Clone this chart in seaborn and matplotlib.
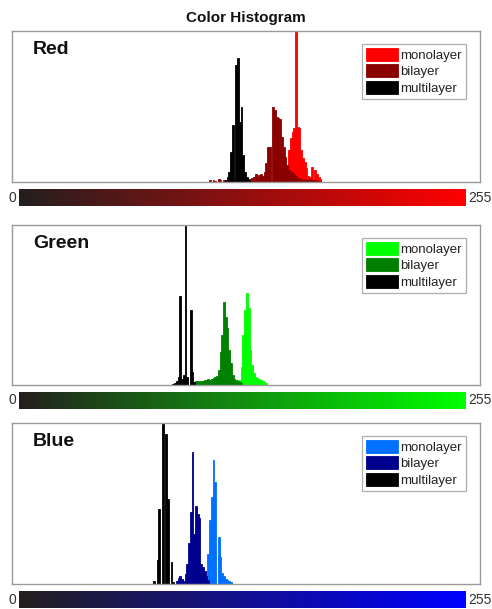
import matplotlib

matplotlib.use("Agg")

import matplotlib.pyplot as plt
import numpy as np
import pandas as pd
import seaborn as sns


# Histogram counts per intensity level (arbitrary units).
LAYERS = ["monolayer", "bilayer", "multilayer"]

RED_MONO_START = 153
RED_MONO = [5, 32, 44, 50, 54, 400, 55, 54, 32, 24, 20, 14, 6, 5, 15, 0, 12, 8, 5, 3]
RED_BI_START = 109
RED_BI = [2, 0, 2, 1, 0, 3, 2, 0, 2, 1, 2, 1, 2, 1, 1, 2, 1, 2, 1, 2, 2, 2, 3, 3, 4,
          5, 8, 4, 7, 8, 6, 10, 19, 35, 35, 0, 75, 72, 65, 64, 63, 45, 35, 25, 17,
          12, 10, 10, 8, 6, 4, 3, 3, 2, 3, 2, 2, 3, 2, 2, 2, 1, 1, 1]
RED_MULTI_START = 118
RED_MULTI = [2, 5, 10, 30, 57, 0, 117, 124, 60, 75, 27, 10, 5, 2]

GREEN_MONO_START = 124
GREEN_MONO = [3, 5, 5, 18, 50, 75, 92, 77, 35, 20, 12, 8, 7, 6, 5, 4, 3, 2]
GREEN_BI_START = 100
GREEN_BI = [2, 4, 4, 3, 4, 4, 5, 5, 6, 5, 6, 7, 8, 9, 15, 33, 50, 83, 68, 57, 35,
            22, 10, 6, 5, 4, 3, 2]
GREEN_MULTI_START = 88
GREEN_MULTI = [1, 2, 4, 8, 89, 6, 10, 400, 8, 0, 75, 13, 3]

BLUE_MONO_START = 106
BLUE_MONO = [3, 4, 30, 64, 87, 124, 102, 0, 47, 27, 11, 8, 5, 4, 3, 2]
BLUE_BI_START = 90
BLUE_BI = [3, 6, 8, 5, 3, 10, 20, 41, 72, 132, 50, 78, 70, 66, 20, 17, 13, 8, 4]
BLUE_MULTI_START = 77
BLUE_MULTI = [3, 0, 24, 75, 0, 161, 0, 150, 85, 0, 22, 2]

CHANNELS = ["Red", "Green", "Blue"]
CBAR_MIN_LABEL = "0"
CBAR_MAX_LABEL = "255"

PALETTES = {
    "Red": ["#ff0000", "#8b0000", "#000000"],
    "Green": ["#00ff00", "#008000", "#000000"],
    "Blue": ["#0070ff", "#00008f", "#000000"],
}
CBAR_END = {"Red": (1.0, 0.0, 0.0), "Green": (0.0, 1.0, 0.0), "Blue": (0.0, 0.0, 1.0)}

# pixel layout of the 492x609 figure: hist box (top, bottom), colorbar (top, bottom)
LAYOUT = {
    "Red": ((31, 182), (189, 206)),
    "Green": ((225, 385), (392, 409)),
    "Blue": ((423, 584), (591, 608)),
}
W, H = 492, 609


def build_frame(channel):
    data = {
        "Red": [(RED_MONO_START, RED_MONO), (RED_BI_START, RED_BI), (RED_MULTI_START, RED_MULTI)],
        "Green": [(GREEN_MONO_START, GREEN_MONO), (GREEN_BI_START, GREEN_BI),
                  (GREEN_MULTI_START, GREEN_MULTI)],
        "Blue": [(BLUE_MONO_START, BLUE_MONO), (BLUE_BI_START, BLUE_BI),
                 (BLUE_MULTI_START, BLUE_MULTI)],
    }[channel]
    rows = []
    for layer, (start, counts) in zip(LAYERS, data):
        for i, c in enumerate(counts):
            rows.append({"level": start + i, "count": c, "layer": layer})
    return pd.DataFrame(rows)


def px_axes(fig, left, right, top, bottom):
    return fig.add_axes([left / W, 1 - bottom / H, (right - left) / W, (bottom - top) / H])


sns.set_theme(style="white")
plt.rcParams["font.family"] = ["Liberation Sans", "DejaVu Sans"]

fig = plt.figure(figsize=(W / 100, H / 100), dpi=100)
fig.text(0.5, 1 - 18 / H, "Color Histogram", ha="center", va="center",
         fontsize=11, fontweight="bold", color="#111111")

# x mapping so the histogram lines up with the 0..255 colorbar (x 19..466 px)
px_per_level = (466 - 19) / 255
xlim = ((12 - 19) / px_per_level, (480 - 19) / px_per_level)

for channel in CHANNELS:
    (htop, hbot), (ctop, cbot) = LAYOUT[channel]
    ax = px_axes(fig, 12, 480, htop, hbot)
    df = build_frame(channel)
    colors = PALETTES[channel]
    for layer, color in zip(LAYERS, colors):
        sub = df[df["layer"] == layer]
        sns.histplot(data=sub, x="level", weights="count", discrete=True,
                     color=color, alpha=1, edgecolor=color, linewidth=0.6,
                     ax=ax, label=layer)
    ax.set_xlim(*xlim)
    ax.set_ylim(0, hbot - htop)
    ax.set_xticks([])
    ax.set_yticks([])
    ax.set_xlabel("")
    ax.set_ylabel("")
    for sp in ax.spines.values():
        sp.set_color("#9a9a9a")
        sp.set_linewidth(1.0)
    ax.text((33 - 12) / 468, 1 - 10 / (hbot - htop), channel, transform=ax.transAxes,
            ha="left", va="top", fontsize=14, fontweight="bold", color="#111111")
    leg = ax.legend(loc="upper right", bbox_to_anchor=(466 / W, 1 - (htop + 13) / H),
                    bbox_transform=fig.transFigure, borderaxespad=0, fontsize=9.5,
                    handlelength=2.4, handleheight=1.1, handletextpad=0.2,
                    labelspacing=0.2, borderpad=0.3, fancybox=False, frameon=True)
    leg.get_frame().set_edgecolor("#9a9a9a")
    leg.get_frame().set_linewidth(0.9)
    for t in leg.get_texts():
        t.set_color("#222222")

    cax = px_axes(fig, 19, 466, ctop, cbot)
    start = np.array([0.14, 0.12, 0.12])
    end = np.array(CBAR_END[channel])
    frac = np.linspace(0, 1, 256)[:, None]
    grad = (start + (end - start) * frac)[None, :, :]
    cax.imshow(grad, aspect="auto", extent=(0, 255, 0, 1))
    cax.set_xticks([])
    cax.set_yticks([])
    for sp in cax.spines.values():
        sp.set_visible(False)
    ymid = 1 - (ctop + cbot) / 2 / H
    fig.text(16 / W, ymid, CBAR_MIN_LABEL, ha="right", va="center", fontsize=10, color="#333333")
    fig.text(468 / W, ymid, CBAR_MAX_LABEL, ha="left", va="center", fontsize=10, color="#333333")

fig.savefig("out.png", dpi=100)
plt.close(fig)
